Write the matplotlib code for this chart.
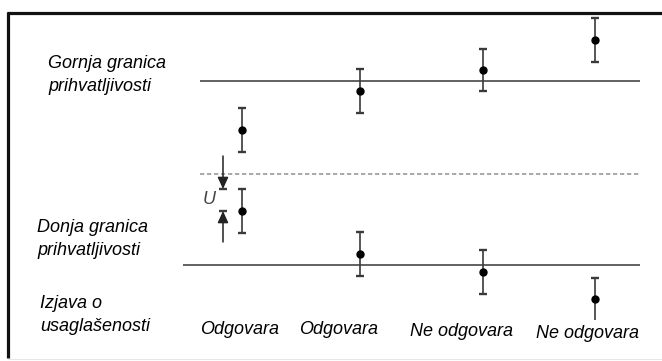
#!/usr/bin/env python3
"""
Conformity statement diagram: measurement results with uncertainty bars
compared against upper and lower acceptance limits.
"""

import matplotlib.pyplot as plt

# Picture is laid out on a 662 x 361 canvas, y grows downward
W, H = 662, 361

# Acceptance limits and the middle (dotted) reference level
upper_limit = 81
lower_limit = 265
middle_level = 174
limit_x_start = [200, 183]
middle_x_start = 200
limit_x_end = 640

# Measurement columns
col_x = [242, 360, 483, 595]
upper_vals = [130, 91, 70, 40]
upper_err = [22, 22, 21, 22]
lower_vals = [211, 254, 272, 299]
lower_err = [22, 22, 22, 21]

# Left-hand captions and bottom verdicts
row_labels = ['Gornja granica\nprihvatljivosti',
              'Donja granica\nprihvatljivosti',
              'Izjava o\nusaglašenosti']
row_label_x = [48, 37, 40]
row_label_y = [75, 239, 315]
verdicts = ['Odgovara', 'Odgovara', 'Ne odgovara', 'Ne odgovara']
verdict_x = [240, 339, 462, 587]
verdict_y = [330, 330, 332, 334]

FONT = ['Liberation Sans', 'DejaVu Sans']
BAR_COLOR = '#3a3a3a'
LINE_COLOR = '#555555'


def main():
    fig = plt.figure(figsize=(W / 100, H / 100), dpi=100)
    ax = fig.add_axes([0, 0, 1, 1])
    ax.set_xlim(0, W)
    ax.set_ylim(H, 0)
    ax.axis('off')

    # Frame (top and left border of the original figure box)
    ax.plot([7, W], [13, 13], color='#111111', lw=2.3, solid_capstyle='butt')
    ax.plot([8, 8], [12, 358], color='#111111', lw=2.3, solid_capstyle='butt')
    ax.plot([8, W], [359, 359], color='#e4e8e8', lw=0.8)

    # Acceptance limits
    ax.hlines(upper_limit, limit_x_start[0], limit_x_end, color=LINE_COLOR, lw=1.3)
    ax.hlines(lower_limit, limit_x_start[1], limit_x_end, color=LINE_COLOR, lw=1.3)
    ax.hlines(middle_level, middle_x_start, limit_x_end, color='#a8a8a8',
              lw=1.4, linestyles=(0, (2.2, 1.4)))

    style = dict(fmt='o', color='black', ms=5, ecolor=BAR_COLOR,
                 elinewidth=1.2, capsize=3.2, capthick=1.7)

    # Upper group of results
    ax.errorbar(col_x, upper_vals, yerr=upper_err, **style)

    # Lower group: last result has no bottom cap
    ax.errorbar(col_x[:-1], lower_vals[:-1], yerr=lower_err[:-1], **style)
    x, y, e = col_x[-1], lower_vals[-1], lower_err[-1]
    ax.vlines(x, y - e, y + e, color=BAR_COLOR, lw=1.2)
    ax.plot([x], [y - e], marker='_', ms=6.4, mew=1.7, color=BAR_COLOR)
    ax.plot([x], [y], 'o', color='black', ms=5)

    # Uncertainty U marker on the first lower result
    ux = 223
    u_top = lower_vals[0] - lower_err[0]
    u_bot = lower_vals[0]
    head = '-|>,head_length=0.7,head_width=0.32'
    ax.annotate('', xy=(ux, u_top), xytext=(ux, u_top - 33),
                arrowprops=dict(arrowstyle=head, color='#222222', lw=1.1,
                                shrinkA=0, shrinkB=0))
    ax.annotate('', xy=(ux, u_bot), xytext=(ux, u_bot + 31),
                arrowprops=dict(arrowstyle=head, color='#222222', lw=1.1,
                                shrinkA=0, shrinkB=0))
    ax.hlines([u_top, u_bot], ux - 4, ux + 4, color=BAR_COLOR, lw=1.7)
    ax.text(209, (u_top + u_bot) / 2, 'U', fontsize=13, style='italic',
            color='#444444', ha='center', va='center', family=FONT)

    # Captions
    for lbl, lx, ly in zip(row_labels, row_label_x, row_label_y):
        ax.text(lx, ly, lbl, fontsize=13, style='italic', ha='left',
                va='center', linespacing=1.5, family=FONT)

    for lbl, vx, vy in zip(verdicts, verdict_x, verdict_y):
        ax.text(vx, vy, lbl, fontsize=13, style='italic', ha='center',
                va='center', family=FONT)

    fig.savefig('out.png', dpi=100)


if __name__ == '__main__':
    main()
